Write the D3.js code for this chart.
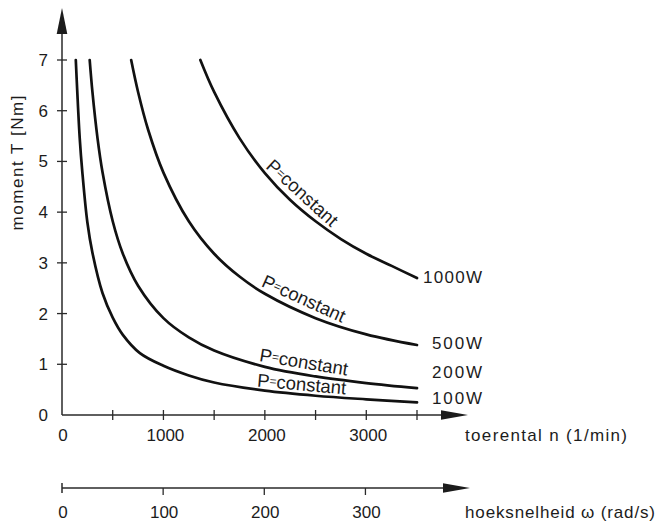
<!DOCTYPE html>
<html>
<head>
<meta charset="utf-8">
<script src="https://cdn.jsdelivr.net/npm/d3@7"></script>
<style>
  html, body { margin: 0; padding: 0; background: #fff; }
  svg { display: block; font-family: "Liberation Sans", Arial, Helvetica, sans-serif; }
</style>
</head>
<body>
<div id="chart"></div>
<script>
// ---- data ----
const powerLabels = ["100W", "200W", "500W", "1000W"];
const speed100  = [136, 150, 175, 200, 250, 300, 400, 500, 600, 768, 1000, 1250, 1500, 2000, 2500, 3000, 3500];
const torque100 = [7.0, 6.4, 5.45, 4.8, 3.8, 3.2, 2.4, 1.92, 1.58, 1.22, 0.97, 0.78, 0.64, 0.48, 0.38, 0.31, 0.25];
const speed200  = [273, 300, 350, 400, 500, 600, 750, 1000, 1250, 1500, 2000, 2500, 3000, 3500];
const torque200 = [7.0, 6.37, 5.46, 4.78, 3.82, 3.18, 2.55, 1.91, 1.53, 1.27, 0.95, 0.76, 0.63, 0.53];
const speed500  = [682, 750, 850, 1000, 1250, 1500, 1750, 2000, 2500, 3000, 3500];
const torque500 = [7.0, 6.37, 5.62, 4.78, 3.82, 3.18, 2.73, 2.39, 1.91, 1.59, 1.38];
const speed1000  = [1364, 1500, 1750, 2000, 2250, 2500, 2750, 3000, 3250, 3500];
const torque1000 = [7.0, 6.37, 5.46, 4.77, 4.24, 3.82, 3.47, 3.18, 2.94, 2.7];
const speedTicks = [500, 1000, 1500, 2000, 2500, 3000, 3500];
const speedTickLabels = ["0", "1000", "2000", "3000"];
const torqueTicks = [1, 2, 3, 4, 5, 6, 7];
const torqueTickLabels = ["0", "1", "2", "3", "4", "5", "6", "7"];
const omegaTicks = [100, 200, 300];
const omegaTickLabels = ["0", "100", "200", "300"];
const curveLabel = "P=constant";
const xTitle = "toerental n (1/min)";
const omegaTitle = "hoeksnelheid \u03c9 (rad/s)";
const yTitle = "moment T [Nm]";

const series = [
  {name: powerLabels[0], n: speed100, t: torque100},
  {name: powerLabels[1], n: speed200, t: torque200},
  {name: powerLabels[2], n: speed500, t: torque500},
  {name: powerLabels[3], n: speed1000, t: torque1000}
];

// ---- drawing ----
const W = 659, H = 523;
const ink = "#1c1c1c";
const svg = d3.select("#chart").append("svg").attr("width", W).attr("height", H);

const x = d3.scaleLinear().domain([0, 3500]).range([62, 417]);
const y = d3.scaleLinear().domain([0, 7]).range([415, 60]);
const xw = d3.scaleLinear().domain([0, 350]).range([62, 416]);

const axisColor = "#2a2a2a";
// y axis line + arrow
svg.append("line").attr("x1", x(0)).attr("x2", x(0)).attr("y1", y(0)).attr("y2", 30)
  .attr("stroke", axisColor).attr("stroke-width", 1.5);
svg.append("path").attr("d", `M${x(0)},8 L${x(0) - 5.3},34 L${x(0) + 5.3},34 Z`).attr("fill", ink);
// x axis line + arrow
svg.append("line").attr("x1", x(0)).attr("x2", 443).attr("y1", y(0)).attr("y2", y(0))
  .attr("stroke", axisColor).attr("stroke-width", 1.5);
svg.append("path").attr("d", `M468,${y(0)} L441,${y(0) - 4.8} L441,${y(0) + 4.8} Z`).attr("fill", ink);

// x ticks (crossing)
svg.selectAll(".xt").data(speedTicks).enter().append("line")
  .attr("x1", d => x(d)).attr("x2", d => x(d)).attr("y1", y(0) - 5).attr("y2", y(0) + 5)
  .attr("stroke", axisColor).attr("stroke-width", 1.3);
// y ticks (crossing)
svg.selectAll(".yt").data(torqueTicks).enter().append("line")
  .attr("x1", x(0) - 5).attr("x2", x(0) + 5).attr("y1", d => y(d)).attr("y2", d => y(d))
  .attr("stroke", axisColor).attr("stroke-width", 1.3);

// tick labels
svg.selectAll(".xl").data(speedTickLabels).enter().append("text")
  .attr("x", d => x(+d) + (+d === 0 ? 1 : 2)).attr("y", 441)
  .attr("text-anchor", "middle").attr("font-size", 17).attr("fill", ink).text(d => d);
svg.selectAll(".yl").data(torqueTickLabels).enter().append("text")
  .attr("x", 48).attr("y", d => y(+d) + 6)
  .attr("text-anchor", "end").attr("font-size", 17).attr("fill", ink).text(d => d);

// axis titles
svg.append("text").attr("x", 465).attr("y", 441).attr("font-size", 17).attr("fill", ink)
  .attr("textLength", 162).attr("lengthAdjust", "spacing").text(xTitle);
svg.append("text").attr("transform", "translate(23,163) rotate(-90)")
  .attr("text-anchor", "middle").attr("font-size", 17).attr("fill", ink)
  .attr("textLength", 135).attr("lengthAdjust", "spacing").text(yTitle);

// omega axis
const wy = 488;
svg.append("line").attr("x1", xw(0)).attr("x2", 445).attr("y1", wy).attr("y2", wy)
  .attr("stroke", axisColor).attr("stroke-width", 1.5);
svg.append("path").attr("d", `M470,${wy} L443,${wy - 4.8} L443,${wy + 4.8} Z`).attr("fill", ink);
svg.append("line").attr("x1", xw(0)).attr("x2", xw(0)).attr("y1", wy - 5).attr("y2", wy + 5)
  .attr("stroke", axisColor).attr("stroke-width", 1.5);
svg.selectAll(".wt").data(omegaTicks).enter().append("line")
  .attr("x1", d => xw(d)).attr("x2", d => xw(d)).attr("y1", wy).attr("y2", wy + 7)
  .attr("stroke", axisColor).attr("stroke-width", 1.3);
svg.selectAll(".wl").data(omegaTickLabels).enter().append("text")
  .attr("x", d => xw(+d) + 1).attr("y", 518)
  .attr("text-anchor", "middle").attr("font-size", 17).attr("fill", ink).text(d => d);
svg.append("text").attr("x", 465).attr("y", 518).attr("font-size", 17).attr("fill", ink)
  .attr("textLength", 190).attr("lengthAdjust", "spacing").text(omegaTitle);

// curves
const line = d3.line().x(d => x(d[0])).y(d => y(d[1])).curve(d3.curveCatmullRom.alpha(0.5));
const paths = series.map(s => {
  const pts = s.n.map((v, i) => [v, s.t[i]]);
  return svg.append("path").attr("d", line(pts)).attr("fill", "none")
    .attr("stroke", "#111").attr("stroke-width", 2.7).attr("stroke-linecap", "round");
});

// end labels
const endLabelY = [404, 378, 349, 283];
series.forEach((s, i) => {
  svg.append("text").attr("x", 482).attr("y", endLabelY[i]).attr("text-anchor", "end")
    .attr("font-size", 17).attr("fill", ink).attr("textLength", i === 3 ? 59 : 50)
    .attr("lengthAdjust", "spacing").text(s.name);
});

// "P=constant" labels along curves
function pointAtX(pathNode, px) {
  const L = pathNode.getTotalLength();
  let lo = 0, hi = L;
  for (let k = 0; k < 40; k++) {
    const mid = (lo + hi) / 2;
    if (pathNode.getPointAtLength(mid).x < px) lo = mid; else hi = mid;
  }
  return pathNode.getPointAtLength((lo + hi) / 2);
}
const labelPlace = [
  {s: 0, n: 2355, off: 4},
  {s: 1, n: 2365, off: 6},
  {s: 2, n: 2330, off: 7},
  {s: 3, n: 2280, off: 7}
];
labelPlace.forEach(lp => {
  const node = paths[lp.s].node();
  const px = x(lp.n);
  const p = pointAtX(node, px);
  const p1 = pointAtX(node, px - 6), p2 = pointAtX(node, px + 6);
  const ang = Math.atan2(p2.y - p1.y, p2.x - p1.x) * 180 / Math.PI;
  const t = svg.append("text")
    .attr("transform", `translate(${p.x},${p.y}) rotate(${ang}) translate(0,${-lp.off})`)
    .attr("text-anchor", "middle").attr("font-size", 18.5).attr("fill", ink);
  t.append("tspan").text(curveLabel.slice(0, 1));
  t.append("tspan").attr("font-size", 12).attr("dy", -2.5).text(curveLabel.slice(1, 2));
  t.append("tspan").attr("dy", 2.5).text(curveLabel.slice(2));
});
</script>
</body>
</html>
